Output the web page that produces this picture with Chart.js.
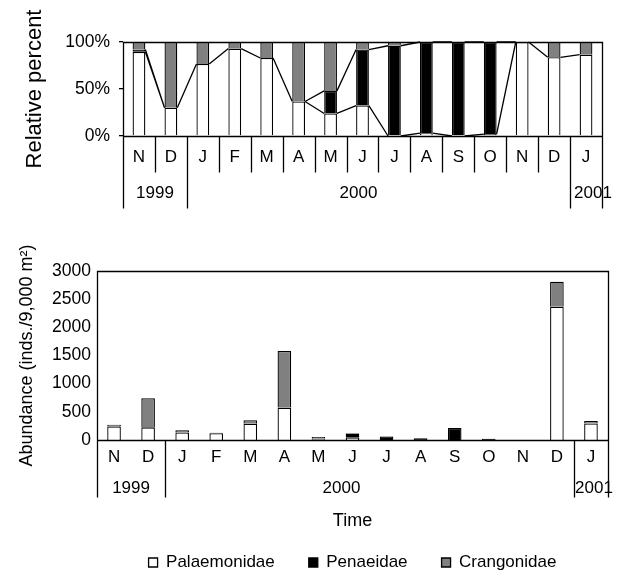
<!DOCTYPE html>
<html>
<head>
<meta charset="utf-8">
<script src="https://cdn.jsdelivr.net/npm/chart.js@4.4.1/dist/chart.umd.min.js"></script>
<style>
  html, body { margin: 0; padding: 0; background: #fff; width: 632px; height: 575px; overflow: hidden; }
  canvas { position: absolute; left: 0; }
  #relChart { top: 0; width: 632px; height: 215px; }
  #absChart { top: 240px; width: 632px; height: 341px; }
</style>
</head>
<body>
<canvas id="relChart" width="632" height="215"></canvas>
<canvas id="absChart" width="632" height="341"></canvas>
<script>
// ── Data ───────────────────────────────────────────────────────────
const months    = ['N', 'D', 'J', 'F', 'M', 'A', 'M', 'J', 'J', 'A', 'S', 'O', 'N', 'D', 'J'];
const years     = ['1999', '2000', '2001'];
const yearStart = [0, 2, 14];            // index of first month of each year

// relative percent (top panel)
const pctPalaemonidae = [89.5, 30, 76.7, 93, 83, 36.7, 24, 32.4, 0, 3, 0, 2, 100, 83.7, 86.6];
const pctPenaeidae    = [2.5, 0, 0, 0, 0, 0, 24, 59.6, 96, 97, 100, 98, 0, 0, 0];
const pctCrangonidae  = [8, 70, 23.3, 7, 17, 63.3, 52, 8, 4, 0, 0, 0, 0, 16.3, 13.4];

// abundance, inds./9,000 m² (bottom panel)
const absPalaemonidae = [240, 225, 132, 121, 290, 575, 13, 40, 0, 1, 0, 0.5, 1, 2366, 292];
const absPenaeidae    = [7, 0, 0, 0, 0, 0, 13, 74, 62, 29, 213, 22.5, 0, 0, 0];
const absCrangonidae  = [22, 515, 40, 9, 60, 1005, 29, 10, 3, 0, 0, 0, 0, 444, 45];

const pctTicks = [0, 50, 100];
const absMax = 3000, absStep = 500;

// ── Style ──────────────────────────────────────────────────────────
const FONT  = "'Liberation Sans', Arial, sans-serif";
const INK   = '#000';
const GRAY  = '#808080';
const LINE_W = 1.3;

Chart.defaults.font.family = FONT;
Chart.defaults.color = INK;

function buildDatasets(p, pe, c) {
  const base = { borderColor: INK, borderWidth: LINE_W, barPercentage: 0.4, categoryPercentage: 1 };
  return [
    { ...base, label: 'Palaemonidae', data: p,  backgroundColor: '#fff' },
    { ...base, label: 'Penaeidae',    data: pe, backgroundColor: INK },
    { ...base, label: 'Crangonidae',  data: c,  backgroundColor: GRAY },
  ];
}

const crisp = v => Math.round(v) + 0.5;

// Frame, month/year separators and year labels under the x axis
function groupAxis(opts) {
  return {
    id: 'groupAxis',
    afterDatasetsDraw(chart) {
      if (!opts.seriesLines) return;
      // Excel-like series lines joining the tops of stacked segments
      const ctx = chart.ctx;
      ctx.save();
      ctx.strokeStyle = INK;
      ctx.lineWidth = LINE_W;
      ctx.beginPath();
      [0, 1].forEach(di => {
        const bars = chart.getDatasetMeta(di).data;
        for (let i = 0; i < bars.length - 1; i++) {
          const a = bars[i], b = bars[i + 1];
          ctx.moveTo(a.x + a.width / 2, a.y);
          ctx.lineTo(b.x - b.width / 2, b.y);
        }
      });
      ctx.stroke();
      ctx.restore();
    },
    afterDraw(chart) {
      const { ctx, chartArea: area, scales: { x } } = chart;
      const edge = b => crisp(x.getPixelForValue(b - 0.5));
      const top = crisp(area.top), bottom = crisp(area.bottom);
      const bounds = yearStart.concat([months.length]);

      ctx.save();
      ctx.strokeStyle = INK;
      ctx.lineWidth = LINE_W;
      ctx.beginPath();
      ctx.rect(edge(0), top, edge(months.length) - edge(0), bottom - top);
      if (opts.monthTick) {
        for (let b = 1; b < months.length; b++) {
          ctx.moveTo(edge(b), bottom);
          ctx.lineTo(edge(b), bottom + opts.monthTick);
        }
      }
      bounds.forEach(b => {
        ctx.moveTo(edge(b), bottom);
        ctx.lineTo(edge(b), bottom + opts.yearTick);
      });
      ctx.stroke();

      ctx.fillStyle = INK;
      ctx.font = `17px ${FONT}`;
      ctx.textAlign = 'center';
      ctx.textBaseline = 'middle';
      years.forEach((yr, i) => {
        const mid = (x.getPixelForValue(bounds[i] - 0.5) + x.getPixelForValue(bounds[i + 1] - 0.5)) / 2;
        ctx.fillText(yr, mid + (opts.nudge[i] || 0), area.bottom + opts.yearLabel);
      });
      ctx.restore();
    }
  };
}

// ── Top panel: relative percent ────────────────────────────────────
new Chart(document.getElementById('relChart'), {
  type: 'bar',
  data: { labels: months, datasets: buildDatasets(pctPalaemonidae, pctPenaeidae, pctCrangonidae) },
  options: {
    responsive: false,
    animation: false,
    layout: { padding: { top: 42, right: 30, left: 0, bottom: 0 } },
    plugins: { legend: { display: false }, tooltip: { enabled: false } },
    scales: {
      x: {
        stacked: true,
        grid: { display: false, drawTicks: false },
        border: { display: false },
        ticks: { padding: 11, font: { size: 17 }, autoSkip: false, maxRotation: 0 },
        afterFit: s => { s.height = 79; },
      },
      y: {
        stacked: true,
        min: 0,
        max: 100,
        afterBuildTicks: s => { s.ticks = pctTicks.map(v => ({ value: v })); },
        ticks: { padding: 9, font: { size: 17.5 }, callback: v => v + '%' },
        grid: { drawOnChartArea: false, drawTicks: true, tickLength: 4, color: INK, lineWidth: LINE_W },
        border: { display: false },
        title: { display: true, text: 'Relative percent', font: { size: 22 }, padding: { top: 22, bottom: 0 } },
        afterFit: s => { s.width = 123; },
      }
    }
  },
  plugins: [groupAxis({ seriesLines: true, monthTick: 36, yearTick: 72, yearLabel: 57, nudge: [0, -20, 7] })]
});

// ── Bottom panel: abundance ────────────────────────────────────────
new Chart(document.getElementById('absChart'), {
  type: 'bar',
  data: { labels: months, datasets: buildDatasets(absPalaemonidae, absPenaeidae, absCrangonidae) },
  options: {
    responsive: false,
    animation: false,
    layout: { padding: { top: 31, right: 24, left: 0, bottom: 0 } },
    plugins: {
      tooltip: { enabled: false },
      legend: {
        position: 'bottom',
        fullSize: false,
        labels: { boxWidth: 9, boxHeight: 9, padding: 34, font: { size: 17 } }
      }
    },
    scales: {
      x: {
        stacked: true,
        grid: { display: false, drawTicks: false },
        border: { display: false },
        ticks: { padding: 7, font: { size: 17 }, autoSkip: false, maxRotation: 0 },
        title: { display: true, text: 'Time', font: { size: 18 }, padding: { top: 0, bottom: -12 } },
        afterFit: s => { s.height = 80; },
      },
      y: {
        stacked: true,
        min: 0,
        max: absMax,
        ticks: { stepSize: absStep, padding: 6, font: { size: 17.5 }, callback: v => String(v) },
        grid: { display: false, drawTicks: false },
        border: { display: false },
        title: { display: true, text: 'Abundance (inds./9,000 m²)', font: { size: 18 }, padding: { top: 16, bottom: 0 } },
        afterFit: s => { s.width = 97; },
      }
    }
  },
  plugins: [groupAxis({ seriesLines: false, monthTick: 0, yearTick: 57, yearLabel: 48, nudge: [0, -28, 3] })]
});
</script>
</body>
</html>
